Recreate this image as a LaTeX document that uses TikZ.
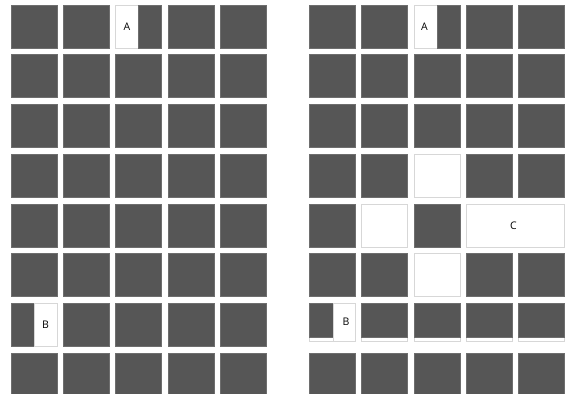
\documentclass[tikz,border=0pt]{standalone}
\usepackage{fontspec}
\setmainfont{Open Sans}
\definecolor{cellgray}{RGB}{86,86,86}
\definecolor{celledge}{RGB}{110,110,110}
\definecolor{lightedge}{RGB}{215,215,215}
\tikzset{
  darkcell/.style={fill=cellgray, draw=celledge, line width=0.5pt},
  whitecell/.style={fill=white, draw=lightedge, line width=0.6pt},
  lbl/.style={font=\fontsize{10.5}{12}\selectfont, text=black, inner sep=0pt}
}
\begin{document}
\begin{tikzpicture}[x=1pt,y=-1pt]
\useasboundingbox (0,0) rectangle (566,394);
\fill[white] (0,0) rectangle (566,394);
\begin{scope}
\clip (0,0) rectangle (566,394);
% ---------- left grid ----------
\foreach \r in {0,...,7}{
  \foreach \c in {0,...,4}{
    \pgfmathsetmacro{\xx}{11+52.3*\c}
    \pgfmathsetmacro{\yy}{5+49.7*\r}
    \draw[darkcell] (\xx,\yy) rectangle ++(46,43);
  }
}
% A cell (left)
\draw[whitecell] (115.6,5) rectangle (138,48);
\draw[darkcell] (138,5) rectangle (161.6,48);
\node[lbl] (la) at (127,26.5) {A};
% B cell (left)
\draw[darkcell] (11,303.2) rectangle (34,346.2);
\draw[whitecell] (34,303.2) rectangle (57,346.2);
\node[lbl] (lb) at (45.5,325) {B};
% ---------- right grid ----------
\foreach \r in {0,...,5,7}{
  \foreach \c in {0,...,4}{
    \pgfmathsetmacro{\xx}{309+52.4*\c}
    \pgfmathsetmacro{\yy}{5+49.7*\r}
    \draw[darkcell] (\xx,\yy) rectangle ++(46,43);
  }
}
% row 7 (index 6) with white strip at bottom
\foreach \c in {0,...,4}{
  \pgfmathsetmacro{\xx}{309+52.4*\c}
  \draw[whitecell] (\xx,303.2) rectangle ++(46,38);
  \draw[darkcell] (\xx,303.2) rectangle ++(46,33.8);
}
% A cell (right)
\draw[whitecell] (413.8,5) rectangle (437,48);
\draw[darkcell] (437,5) rectangle (459.8,48);
\node[lbl] (ra) at (424.5,26.5) {A};
% B cell (right)
\draw[whitecell] (333,303.2) rectangle (355,341.2);
\node[lbl] (rb) at (346,321.5) {B};
% white cells
\draw[whitecell] (413.8,154.1) rectangle ++(46,43);
\draw[whitecell] (361.4,203.8) rectangle ++(46,43);
\draw[whitecell] (413.8,253.5) rectangle ++(46,43);
% merged C cell
\draw[whitecell] (466.2,203.8) rectangle (564.6,246.8);
\node[lbl] (rc) at (513.5,226) {C};
\end{scope}
\end{tikzpicture}
\end{document}
